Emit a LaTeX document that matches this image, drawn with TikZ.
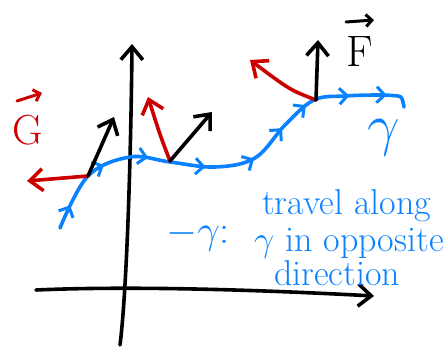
\RequirePackage{fix-cm}
\documentclass[tikz,border=0pt]{standalone}
\usepackage{amsmath}
\usetikzlibrary{arrows.meta,decorations.markings}
\definecolor{penblue}{RGB}{10,130,255}
\definecolor{penred}{RGB}{205,0,0}
\tikzset{
  pen/.style={line width=3.6pt,line cap=round,line join=round},
  vecarrow/.style={pen,-{Straight Barb[length=13pt,width=22pt,line width=3.6pt]}},
  hat/.style={pen,line width=3pt,-{Straight Barb[length=6pt,width=12pt,line width=3pt]}},
  flow/.style={pen,penblue,postaction={decorate},
    decoration={markings,
      mark=at position 0.06 with {\arrow{Straight Barb[length=8pt,width=16pt,line width=3pt]}},
      mark=at position 0.19 with {\arrow{Straight Barb[length=8pt,width=16pt,line width=3pt]}},
      mark=at position 0.30 with {\arrow{Straight Barb[length=8pt,width=16pt,line width=3pt]}},
      mark=at position 0.44 with {\arrow{Straight Barb[length=8pt,width=16pt,line width=3pt]}},
      mark=at position 0.56 with {\arrow{Straight Barb[length=8pt,width=16pt,line width=3pt]}},
      mark=at position 0.66 with {\arrow{Straight Barb[length=8pt,width=16pt,line width=3pt]}},
      mark=at position 0.74 with {\arrow{Straight Barb[length=8pt,width=16pt,line width=3pt]}},
      mark=at position 0.85 with {\arrow{Straight Barb[length=8pt,width=16pt,line width=3pt]}},
      mark=at position 0.94 with {\arrow{Straight Barb[length=8pt,width=16pt,line width=3pt]}}}},
  note/.style={penblue,font=\fontsize{36}{32}\selectfont,inner sep=0pt,anchor=west}
}
\begin{document}
\begin{tikzpicture}[x=1pt,y=-1pt]
\useasboundingbox (0,0) rectangle (448,347);
% axes
\draw[vecarrow] (120,345) .. controls (127,290) and (131,150) .. (132,44);
\draw[vecarrow] (36,290) .. controls (150,285) and (300,292) .. (374,296);
% the path gamma
\draw[flow] plot[smooth,tension=0.6] coordinates {(60,228) (88,176) (130,157) (170,162) (215,167) (255,158) (285,125) (314,100) (345,96) (380,95) (398,96)} .. controls (402,97) .. (404,107);
% points on the path
\coordinate (pa) at (88,176);
\coordinate (pb) at (170,161);
\coordinate (pc) at (316,100);
% forces
\draw[vecarrow,penred] (pa) -- (27,181);
\draw[vecarrow] (pa) -- (114,117);
\draw[vecarrow,penred] (pb) .. controls (160,135) .. (148,97);
\draw[vecarrow] (pb) -- (212,112);
\draw[vecarrow,penred] (pc) .. controls (290,90) .. (250,60);
\draw[vecarrow] (pc) -- (318,40);
% labels
\node[penred,font=\fontsize{42}{42}\selectfont,inner sep=0pt] (G) at (28,130) {G};
\draw[hat,penred] (17,101) -- (42,93);
\node[font=\fontsize{44}{44}\selectfont,inner sep=0pt] (F) at (360,52) {F};
\draw[hat] (346,22) -- (374,20);
\node[penblue,font=\fontsize{58}{58}\selectfont,inner sep=0pt] (gam) at (384,138) {$\gamma$};
\node[note,font=\fontsize{40}{40}\selectfont] (l0) at (166,236) {$-\gamma$:};
\node[note] (l1) at (262,206) {travel along};
\node[note] (l2) at (254,243) {$\gamma$ in opposite};
\node[note] (l3) at (274,273) {direction};
\end{tikzpicture}
\end{document}
